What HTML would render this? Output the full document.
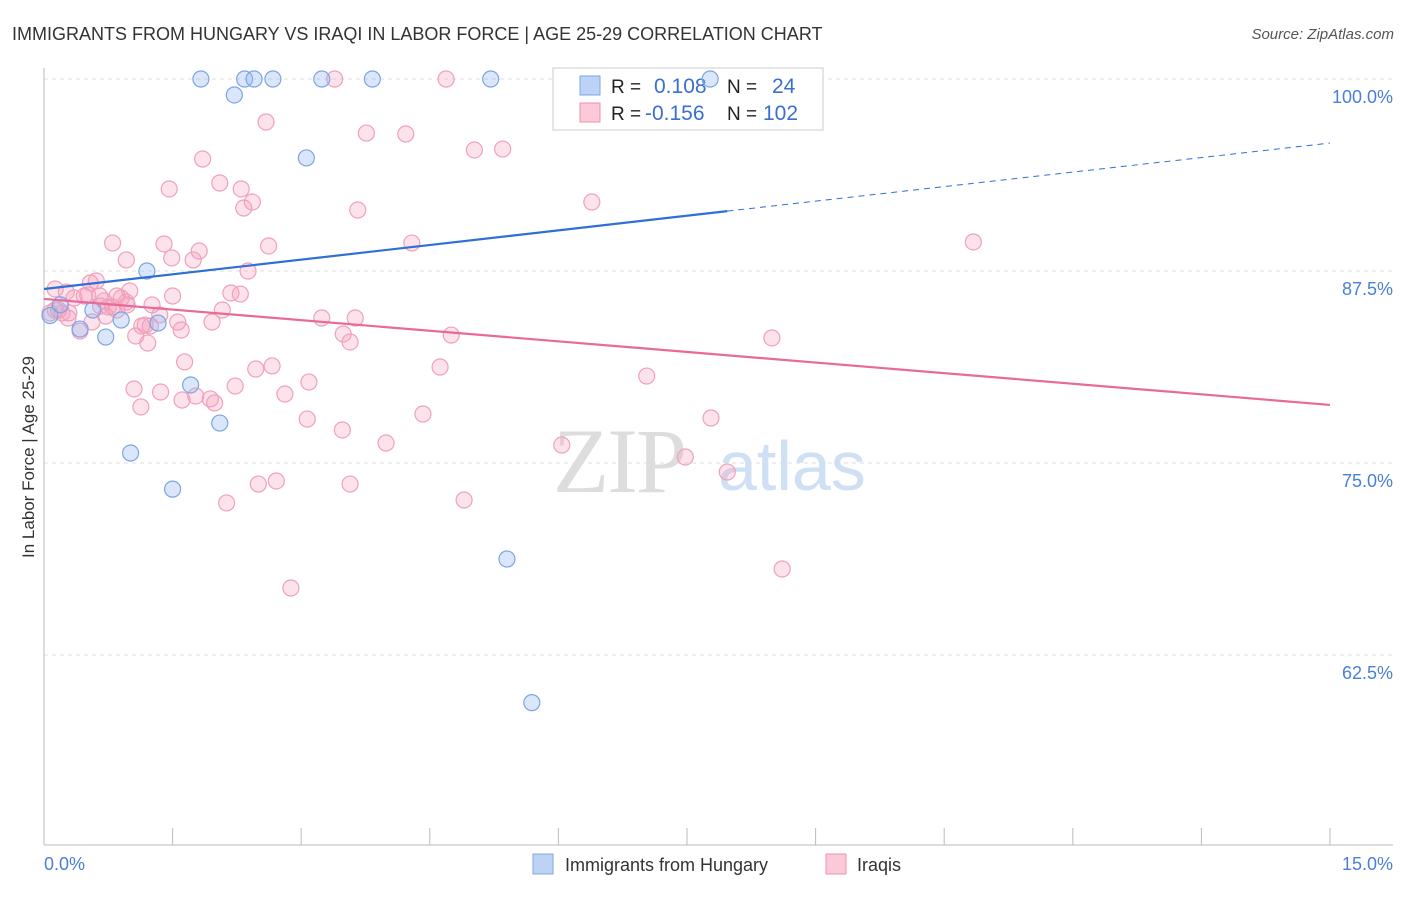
<!DOCTYPE html>
<html><head><meta charset="utf-8"><style>
body{margin:0;background:#fff;font-family:"Liberation Sans",sans-serif;}
</style></head><body>
<svg id="chart" width="1406" height="892" viewBox="0 0 1406 892" xmlns="http://www.w3.org/2000/svg">
<text x="12" y="40" font-size="18" fill="#333">IMMIGRANTS FROM HUNGARY VS IRAQI IN LABOR FORCE | AGE 25-29 CORRELATION CHART</text>
<text x="1394" y="39" font-size="15" fill="#555" font-style="italic" text-anchor="end">Source: ZipAtlas.com</text>
<text transform="translate(34,457) rotate(-90)" font-size="17" fill="#333" text-anchor="middle">In Labor Force | Age 25-29</text>
<g id="grid"></g>
<g id="watermark">
<text x="553" y="492" font-size="92" fill="#ddd" font-family="Liberation Serif,serif" letter-spacing="-2">ZIP</text>
<text x="718" y="490" font-size="70" fill="#cfe0f5">atlas</text>
</g>
<g id="axes"></g>
<g>
<rect x="553" y="68" width="270" height="62" fill="#fff" stroke="#ccc"/>
<rect x="580" y="76" width="20" height="19" fill="#bcd3f5" stroke="#7fa6e6"/>
<rect x="580" y="103" width="20" height="19" fill="#fbc9d8" stroke="#ef8fae"/>
<text x="611" y="93" font-size="19" fill="#222">R =</text>
<text x="654" y="93" font-size="21" fill="#3a6fd0">0.108</text>
<text x="727" y="93" font-size="19" fill="#222">N =</text>
<text x="772" y="93" font-size="21" fill="#3a6fd0">24</text>
<text x="611" y="120" font-size="19" fill="#222">R =</text>
<text x="645" y="120" font-size="21" fill="#3a6fd0">-0.156</text>
<text x="727" y="120" font-size="19" fill="#222">N =</text>
<text x="763" y="120" font-size="21" fill="#3a6fd0">102</text>
</g>
<g id="pts"></g>
<g id="trend"></g>
<g>
<rect x="533" y="854" width="20" height="20" fill="#bcd3f5" stroke="#7fa6e6"/>
<text x="565" y="871" font-size="18" fill="#333">Immigrants from Hungary</text>
<rect x="826" y="854" width="20" height="20" fill="#fbc9d8" stroke="#ef8fae"/>
<text x="857" y="871" font-size="18" fill="#333">Iraqis</text>
</g>
</svg>
<script>
const blueX=[1.83,2.34,2.45,2.67,3.24,3.83,5.21,7.77,2.22,3.06,1.20,0.57,0.90,1.33,0.42,0.72,1.71,2.05,1.01,1.50,5.40,5.69,0.07,0.19];
const blueY=[100,100,100,100,100,100,100,100,98.96,94.86,87.5,84.96,84.31,84.11,83.72,83.2,80.08,77.6,75.65,73.3,68.75,59.4,84.6,85.3];
const pinkX=[3.39,4.69,2.59,3.76,4.22,5.02,5.35,1.85,1.46,2.05,2.30,2.43,2.33,3.66,6.39,0.80,1.40,1.81,2.62,4.29,10.84,0.96,1.49,1.74,2.38,0.54,0.61,0.13,0.26,0.47,0.35,0.70,1.00,1.50,2.18,2.29,0.90,0.96,1.26,0.66,0.80,0.97,0.75,0.85,0.13,0.21,0.07,0.28,0.56,0.72,2.08,1.14,1.24,1.56,1.60,1.96,1.07,1.21,1.35,0.42,3.24,3.63,3.49,3.57,4.75,8.49,1.64,2.47,2.66,4.62,7.03,1.05,1.36,2.23,3.09,1.61,1.77,1.94,1.99,1.13,2.81,3.07,3.48,4.42,7.78,3.99,6.04,7.48,7.97,2.50,2.71,3.57,2.13,4.90,8.61,2.88,1.18,0.29,0.51,0.17,0.65,0.85];
const pinkY=[100,100,97.20,96.48,96.42,95.38,95.44,94.79,92.84,93.23,92.84,91.99,91.60,91.47,91.99,89.32,89.26,88.80,89.13,89.32,89.39,88.22,88.35,88.22,87.50,86.72,86.85,86.33,86.13,85.87,85.74,85.55,86.20,85.87,86.07,86.00,85.74,85.48,85.29,85.22,85.16,85.29,85.16,84.96,84.96,84.77,84.77,84.44,84.18,84.57,84.96,83.92,83.92,84.18,83.66,84.18,83.27,82.81,84.64,83.59,84.44,84.44,83.40,82.88,83.33,83.14,81.58,81.12,81.32,81.25,80.66,79.82,79.62,80.01,80.27,79.10,79.36,79.17,78.91,78.65,79.49,77.86,77.15,78.19,77.93,76.30,76.17,75.39,74.41,73.63,73.83,73.63,72.40,72.59,68.10,66.86,83.98,84.77,85.94,84.96,85.87,85.87];
const yTicks=[100,87.5,75,62.5];
const yTickLabels=["100.0%","87.5%","75.0%","62.5%"];
const blueTrend=[[0,86.33],[7.97,91.4],[15,95.83]];
const pinkTrend=[[0,85.68],[15,78.78]];
const X=v=>44+v/15*1286;
const Y=v=>79+(100-v)/12.5*192;
const NS="http://www.w3.org/2000/svg";
function mk(p,t,a){const e=document.createElementNS(NS,t);for(const k in a)e.setAttribute(k,a[k]);p.appendChild(e);return e;}
const grid=document.getElementById('grid');
yTicks.forEach((t,i)=>{
  const l=mk(grid,'line',{x1:44,x2:1393,y1:Y(t),y2:Y(t),stroke:'#ddd','stroke-dasharray':'4,4'});
  
  
  const tx=mk(grid,'text',{x:1393,y:Y(t)+24,'font-size':18,fill:'#4a7fd6','text-anchor':'end'});
  tx.textContent=yTickLabels[i];
  
  
});
const ax=document.getElementById('axes');
mk(ax,'line',{x1:44,x2:44,y1:68,y2:845,stroke:'#bbb'});
mk(ax,'line',{x1:44,x2:1393,y1:845,y2:845,stroke:'#bbb'});
for(let i=0;i<=10;i++){const l=mk(ax,'line',{x1:X(i*1.5),x2:X(i*1.5),y1:828,y2:845,stroke:'#bbb'});

}
let t=mk(ax,'text',{x:44,y:870,'font-size':18,fill:'#4a7fd6'});t.textContent='0.0%';


t=mk(ax,'text',{x:1393,y:870,'font-size':18,fill:'#4a7fd6','text-anchor':'end'});t.textContent='15.0%';


const pts=document.getElementById('pts');
pinkX.forEach((x,i)=>{const c=mk(pts,'circle',{cx:X(x),cy:Y(pinkY[i]),r:8,fill:'rgba(246,160,190,0.3)',stroke:'#f0a0bb','stroke-width':1.2});

});
blueX.forEach((x,i)=>{const c=mk(pts,'circle',{cx:X(x),cy:Y(blueY[i]),r:8,fill:'rgba(150,185,240,0.35)',stroke:'#7ea4e3','stroke-width':1.2});

});
const tr=document.getElementById('trend');
let l=mk(tr,'line',{x1:X(blueTrend[0][0]),y1:Y(blueTrend[0][1]),x2:X(blueTrend[1][0]),y2:Y(blueTrend[1][1]),stroke:'#2f6fd6','stroke-width':2.2});


l=mk(tr,'line',{x1:X(blueTrend[1][0]),y1:Y(blueTrend[1][1]),x2:X(blueTrend[2][0]),y2:Y(blueTrend[2][1]),stroke:'#2f6fd6','stroke-width':1,'stroke-dasharray':'6,5'});


l=mk(tr,'line',{x1:X(pinkTrend[0][0]),y1:Y(pinkTrend[0][1]),x2:X(pinkTrend[1][0]),y2:Y(pinkTrend[1][1]),stroke:'#e8699a','stroke-width':2.2});


</script>
</body></html>
